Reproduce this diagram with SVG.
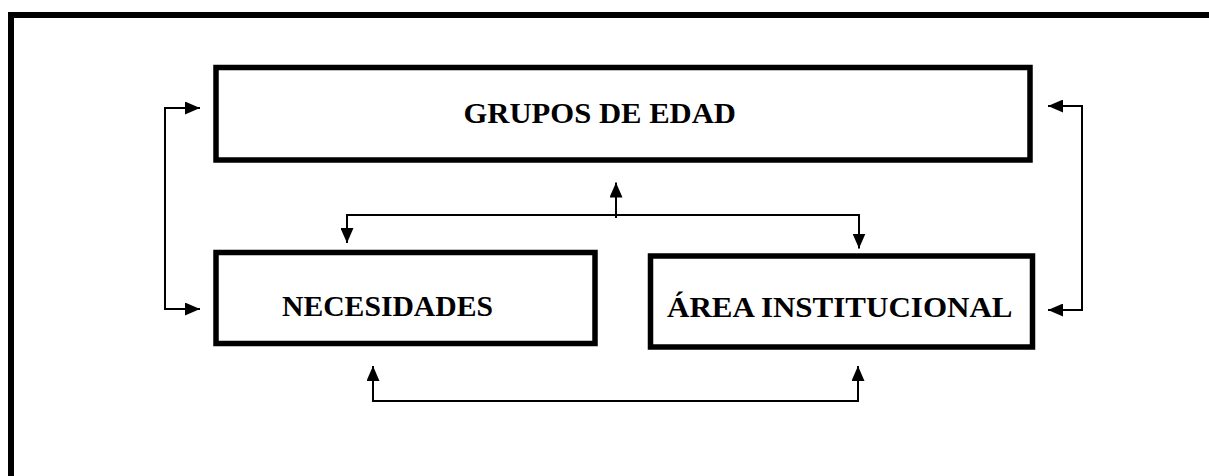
<svg xmlns="http://www.w3.org/2000/svg" width="1209" height="476" viewBox="0 0 1209 476">
  <defs>
    <marker id="arr" markerUnits="userSpaceOnUse" markerWidth="15" markerHeight="13" refX="15" refY="6.5" orient="auto-start-reverse">
      <path d="M0,0 L15,6.5 L0,13 z" fill="#000"/>
    </marker>
    <style>
      .box { fill: #fff; stroke: #000; stroke-width: 5.5; }
      .lbl { font-family: "Liberation Serif", "Times New Roman", serif; font-weight: bold; font-size: 29px; fill: #000; }
      .con { fill: none; stroke: #000; stroke-width: 2; }
    </style>
  </defs>
  <rect width="1209" height="476" fill="#fff"/>
  <path d="M11,490 V15 H1220" fill="none" stroke="#000" stroke-width="6"/>

  <g id="grupos">
    <rect class="box" x="216" y="67.5" width="814" height="92.5"/>
    <text class="lbl" x="463.5" y="122.7" textLength="272.5" lengthAdjust="spacingAndGlyphs">GRUPOS DE EDAD</text>
  </g>
  <g id="necesidades">
    <rect class="box" x="216" y="252.5" width="379" height="91"/>
    <text class="lbl" x="282" y="316" textLength="211" lengthAdjust="spacingAndGlyphs">NECESIDADES</text>
  </g>
  <g id="area">
    <rect class="box" x="650.5" y="256" width="382" height="91"/>
    <text class="lbl" x="667" y="316.7" textLength="345.5" lengthAdjust="spacingAndGlyphs">ÁREA INSTITUCIONAL</text>
  </g>

  <g id="connectors">
    <path class="con" d="M200,108 H165 V309 H200" marker-start="url(#arr)" marker-end="url(#arr)"/>
    <path class="con" d="M1048,106 H1082 V310 H1048" marker-start="url(#arr)" marker-end="url(#arr)"/>
    <path class="con" d="M347,243 V215 H859 V248.5" marker-start="url(#arr)" marker-end="url(#arr)"/>
    <path class="con" d="M616,218 V182.5" marker-end="url(#arr)"/>
    <path class="con" d="M373,366 V401 H858 V366" marker-start="url(#arr)" marker-end="url(#arr)"/>
  </g>
</svg>
